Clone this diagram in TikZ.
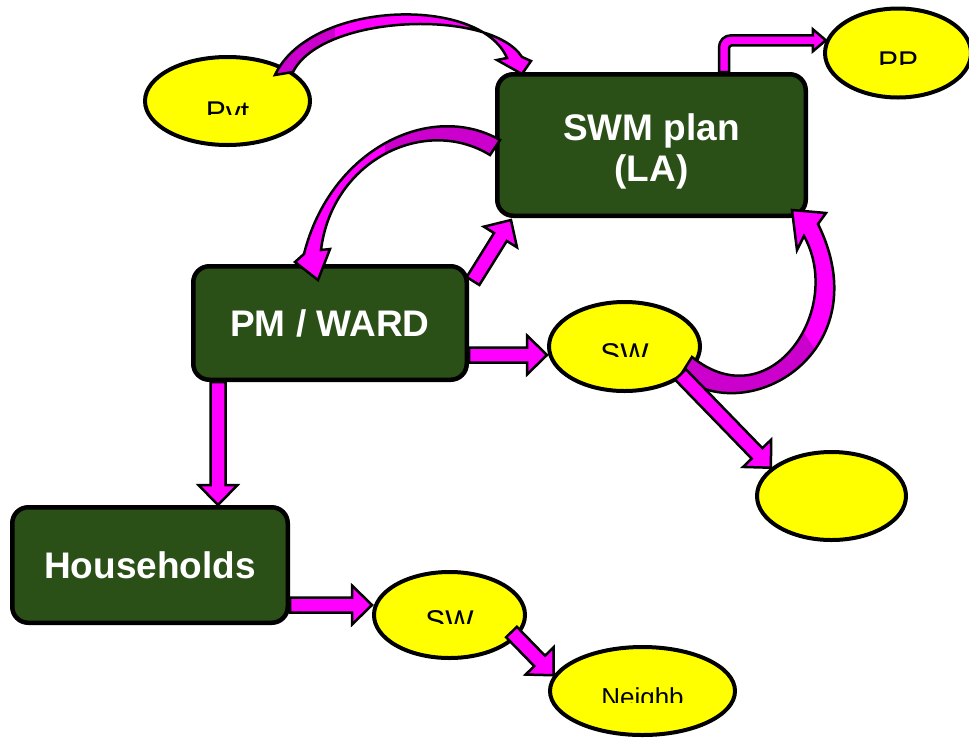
\documentclass[tikz,border=0pt]{standalone}
\usepackage{fontspec}
\setmainfont{Liberation Sans}
\usetikzlibrary{calc,shapes.geometric}
\definecolor{boxgreen}{HTML}{2A4F17}
\definecolor{arrowmag}{HTML}{FF00FF}
\definecolor{darkmag}{HTML}{CC00CC}
\definecolor{ovalyellow}{HTML}{FFFF00}
\def\shaftw{7.5}
\def\headw{19.5}
\def\headl{20}

% straight block arrow from #1 to #2
\newcommand{\blockarrow}[2]{%
  \path let \p1=($(#2)-(#1)$) in
    \pgfextra{\pgfmathparse{atan2(\y1,\x1)}\xdef\arrang{\pgfmathresult}%
              \pgfmathparse{veclen(\x1,\y1)}\xdef\arrlen{\pgfmathresult}};
  \draw[barrow, shift={(#1)}, rotate=\arrang]
    (0pt,-\shaftw pt) -- (\arrlen pt-\headl pt,-\shaftw pt) -- (\arrlen pt-\headl pt,-\headw pt)
    -- (\arrlen pt,0pt) -- (\arrlen pt-\headl pt,\headw pt) -- (\arrlen pt-\headl pt,\shaftw pt)
    -- (0pt,\shaftw pt) -- cycle;}

% oval text, cut off below a line
\newcommand{\cutlabel}[5]{%
  \begin{scope}
    \clip ($(#1.north west)+(-5,-5)$) rectangle ($(#1.east)+(5,#4)$);
    \node[anchor=base, inner sep=0pt, font=\fontsize{#5}{#5}\selectfont] at ($(#1.center)+(0,#3)$) {#2};
  \end{scope}}

\begin{document}
\begin{tikzpicture}[x=1pt, y=-1pt,
  boxnode/.style={draw=black, line width=4.5pt, fill=boxgreen, rounded corners=16pt, text=white,
    font=\fontsize{37}{41}\selectfont\bfseries, align=center, inner sep=0pt},
  ovalnode/.style={ellipse, draw=black, line width=4pt, fill=ovalyellow, inner sep=0pt},
  barrow/.style={fill=arrowmag, draw=black, line width=2.5pt, line join=miter},
  bandline/.style={draw=black, line width=2.5pt, line join=miter}]

\useasboundingbox (0,0) rectangle (969,740);
\clip (0,0) rectangle (969,740);

% boxes

\node[boxnode, minimum width=308.5pt, minimum height=141.5pt] (swm) at (651.5,145)
  {\rule{0pt}{39pt}SWM plan\\(LA)};
\node[boxnode, minimum width=273.5pt, minimum height=113.5pt] (pm) at (330,323) {PM / WARD};
\node[boxnode, minimum width=275.5pt, minimum height=115.5pt] (hh) at (150,565) {Households};

% ovals

\node[ovalnode, minimum width=165pt, minimum height=88pt] (pvt) at (227.5,101) {};
\node[ovalnode, minimum width=146pt, minimum height=89pt] (pp) at (898,53) {};
\node[ovalnode, minimum width=151pt, minimum height=89pt] (swu) at (624.5,346.5) {};
\node[ovalnode, minimum width=149pt, minimum height=88pt] (dump) at (831.5,496) {};
\node[ovalnode, minimum width=151pt, minimum height=86pt] (swl) at (449.5,615) {};
\node[ovalnode, minimum width=185pt, minimum height=88pt] (nb) at (642.5,691) {};

\cutlabel{pvt}{Pvt}{21.5}{13}{30}
\cutlabel{pp}{PP}{19.5}{11}{30}
\cutlabel{swu}{SW}{18}{10}{30}
\cutlabel{swl}{SW}{16.5}{8.5}{30}
\cutlabel{nb}{Neighb}{15.6}{11}{26}

% curved arrows

\def\bandpvt{(275,75) .. controls (310,0) and (480,-5) .. (507,58) -- (497,60) -- (522,74)
  -- (531,61) -- (522,57) .. controls (490,8) and (322,14) .. (293,72) -- cycle}
\fill[arrowmag] \bandpvt;
\begin{scope}
  \clip \bandpvt;
  \fill[darkmag] (260,0) rectangle (335,90);
\end{scope}
\draw[bandline] \bandpvt;

\def\bandpm{(500,140) .. controls (430,100) and (330,150) .. (304,254) -- (295,262) -- (318,280)
  -- (330,249) -- (321,250) .. controls (332,160) and (425,115) .. (490,155) -- cycle}
\fill[arrowmag] \bandpm;
\begin{scope}
  \clip \bandpm;
  \fill[darkmag] (385,90) rectangle (510,170);
\end{scope}
\draw[bandline] \bandpm;

\def\bandsw{(680,376) .. controls (750,430) and (880,350) .. (818,224) -- (826,213) -- (792,210)
  -- (797,250) -- (804,236) .. controls (845,310) and (770,420) .. (692,357) -- cycle}
\fill[arrowmag] \bandsw;
\begin{scope}
  \clip \bandsw;
  \fill[darkmag] (650,320) -- (795,320) -- (850,400) -- (650,420) -- cycle;
\end{scope}
\draw[bandline] \bandsw;

% straight arrows

\coordinate (pmne) at ($(pm.north east)+(4,17)$);
\coordinate (swmsw) at ($(swm.south west)+(16,2)$);
\blockarrow{pmne}{swmsw}

\coordinate (pmeast) at ($(pm.east)+(0,32)$);
\coordinate (swuwest) at (swu.west |- pmeast);
\blockarrow{pmeast}{swuwest}

\coordinate (pmsouth) at ($(pm.south west)+(27,0)$);
\coordinate (hhnorth) at (hh.north -| pmsouth);
\blockarrow{pmsouth}{hhnorth}

\coordinate (hheast) at ($(hh.east)+(0,40)$);
\coordinate (swlwest) at (swl.west |- hheast);
\blockarrow{hheast}{swlwest}

\coordinate (swlout) at ($(swl.center)+(62,17)$);
\blockarrow{swlout}{nb.170}

\coordinate (swuout) at ($(swu.center)+(56,28)$);
\blockarrow{swuout}{dump.155}

% elbow arrow to PP
\coordinate (swmtop) at ($(swm.north)+(72.5,0)$);
\draw[barrow] let \p1=(swmtop), \p2=(pp.170) in
  (\x1-5pt,\y1) -- (\x1-5pt,\y2-7pt) arc[start angle=180, end angle=90, radius=12pt]
  -- (\x2-13pt,\y2+5pt) -- (\x2-13pt,\y2+11pt) -- (\x2,\y2) -- (\x2-13pt,\y2-11pt)
  -- (\x2-13pt,\y2-5pt) -- (\x1+8pt,\y2-5pt) arc[start angle=90, end angle=180, radius=3pt]
  -- (\x1+5pt,\y1) -- cycle;

\end{tikzpicture}
\end{document}
